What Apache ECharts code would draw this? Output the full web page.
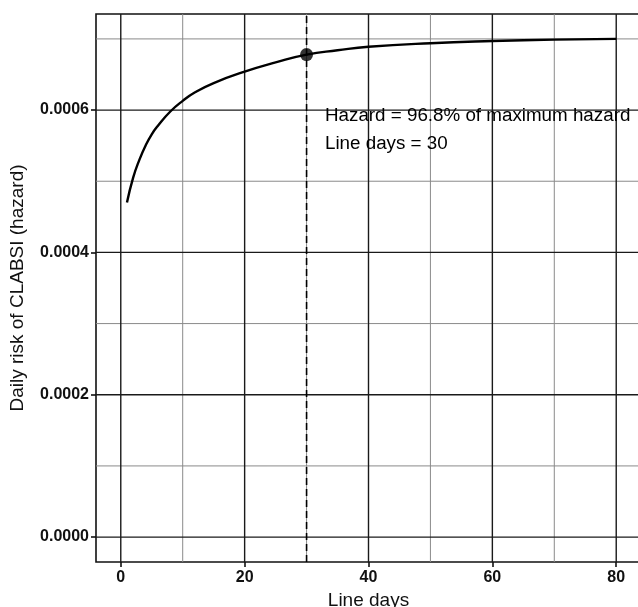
<!DOCTYPE html>
<html>
<head>
<meta charset="utf-8">
<script src="https://cdn.jsdelivr.net/npm/echarts@6/dist/echarts.min.js"></script>
<style>
  html, body { margin: 0; padding: 0; background: #fff; }
  #chart { width: 638px; height: 607px; }
</style>
</head>
<body>
<div id="chart"></div>
<script>
// hazard curve
var lineDays = [1, 2, 3, 4, 5, 6, 8, 10, 12, 15, 20, 25, 30, 35, 40, 50, 60, 70, 80];
var hazard = [0.000470, 0.000505, 0.000530, 0.000550, 0.000566, 0.000578, 0.000598,
  0.000613, 0.000625, 0.000638, 0.000654, 0.000667, 0.000678, 0.000684, 0.000689,
  0.000694, 0.000697, 0.000699, 0.000700];

var xTicks = [0, 20, 40, 60, 80];
var xMinor = [10, 30, 50, 70];
var yTicks = [0, 0.0002, 0.0004, 0.0006];
var yMinor = [0.0001, 0.0003, 0.0005, 0.0007];

var markDay = 30;
var markHazard = 0.000678;
var noteLines = ["Hazard = 96.8% of maximum hazard", "Line days = 30"];

var X_MIN = -4, X_MAX = 84;
var Y_MIN = -0.000035, Y_MAX = 0.000735;

var chart = echarts.init(document.getElementById("chart"));

var pts = lineDays.map(function (d, i) { return [d, hazard[i]]; });

function seg(data, color, width, type, z) {
  return {
    type: "line", data: data, silent: true, showSymbol: false, z: z,
    lineStyle: { color: color, width: width, type: type }
  };
}
function vSeg(v, color, width, type, z) { return seg([[v, Y_MIN], [v, Y_MAX]], color, width, type, z); }
function hSeg(v, color, width, type, z) { return seg([[X_MIN, v], [X_MAX, v]], color, width, type, z); }

var gridSeries = [];
xMinor.forEach(function (v) { gridSeries.push(vSeg(v, "#8a8a8a", 1, "solid", 1)); });
yMinor.forEach(function (v) { gridSeries.push(hSeg(v, "#8a8a8a", 1, "solid", 1)); });
xTicks.forEach(function (v) { gridSeries.push(vSeg(v, "#1a1a1a", 1.4, "solid", 2)); });
yTicks.forEach(function (v) { gridSeries.push(hSeg(v, "#1a1a1a", 1.4, "solid", 2)); });

var fontFam = "'Liberation Sans', Arial, sans-serif";

var option = {
  animation: false,
  grid: {
    left: 96, top: 14, bottom: 45, right: -3,
    outerBoundsMode: "none",
    show: true, borderColor: "#111", borderWidth: 1.6, backgroundColor: "#fff"
  },
  xAxis: {
    type: "value", min: X_MIN, max: X_MAX,
    name: "Line days", nameLocation: "middle", nameGap: 27,
    nameTextStyle: { fontFamily: fontFam, fontSize: 19, color: "#111" },
    axisLine: { show: false, onZero: false },
    splitLine: { show: false },
    axisTick: { show: true, customValues: xTicks, length: 5, lineStyle: { color: "#111", width: 1.6 } },
    axisLabel: { customValues: xTicks, margin: 8, fontFamily: fontFam, fontSize: 16, fontWeight: "bold", color: "#111" }
  },
  yAxis: {
    type: "value", min: Y_MIN, max: Y_MAX,
    name: "Daily risk of CLABSI (hazard)", nameLocation: "middle", nameGap: 69,
    nameTextStyle: { fontFamily: fontFam, fontSize: 19, color: "#111" },
    axisLine: { show: false, onZero: false },
    splitLine: { show: false },
    axisTick: { show: true, customValues: yTicks, length: 5, lineStyle: { color: "#111", width: 1.6 } },
    axisLabel: {
      customValues: yTicks, margin: 7, fontFamily: fontFam, fontSize: 16, fontWeight: "bold", color: "#111",
      formatter: function (v) { return v.toFixed(4); }
    }
  },
  series: gridSeries.concat([
    vSeg(markDay, "#000", 1.6, [7, 4], 3),
    {
      type: "line", data: pts, smooth: true, showSymbol: false, z: 4,
      lineStyle: { color: "#000", width: 2.4 }
    },
    {
      type: "scatter", data: [[markDay, markHazard]], symbolSize: 13, z: 5,
      itemStyle: { color: "#000" }
    }
  ]),
  graphic: [
    {
      type: "text", left: 325, top: 102, z: 10,
      style: {
        text: noteLines.join("\n"), lineHeight: 28,
        font: "18.8px " + fontFam, fill: "#000"
      }
    }
  ]
};

chart.setOption(option);
</script>
</body>
</html>
